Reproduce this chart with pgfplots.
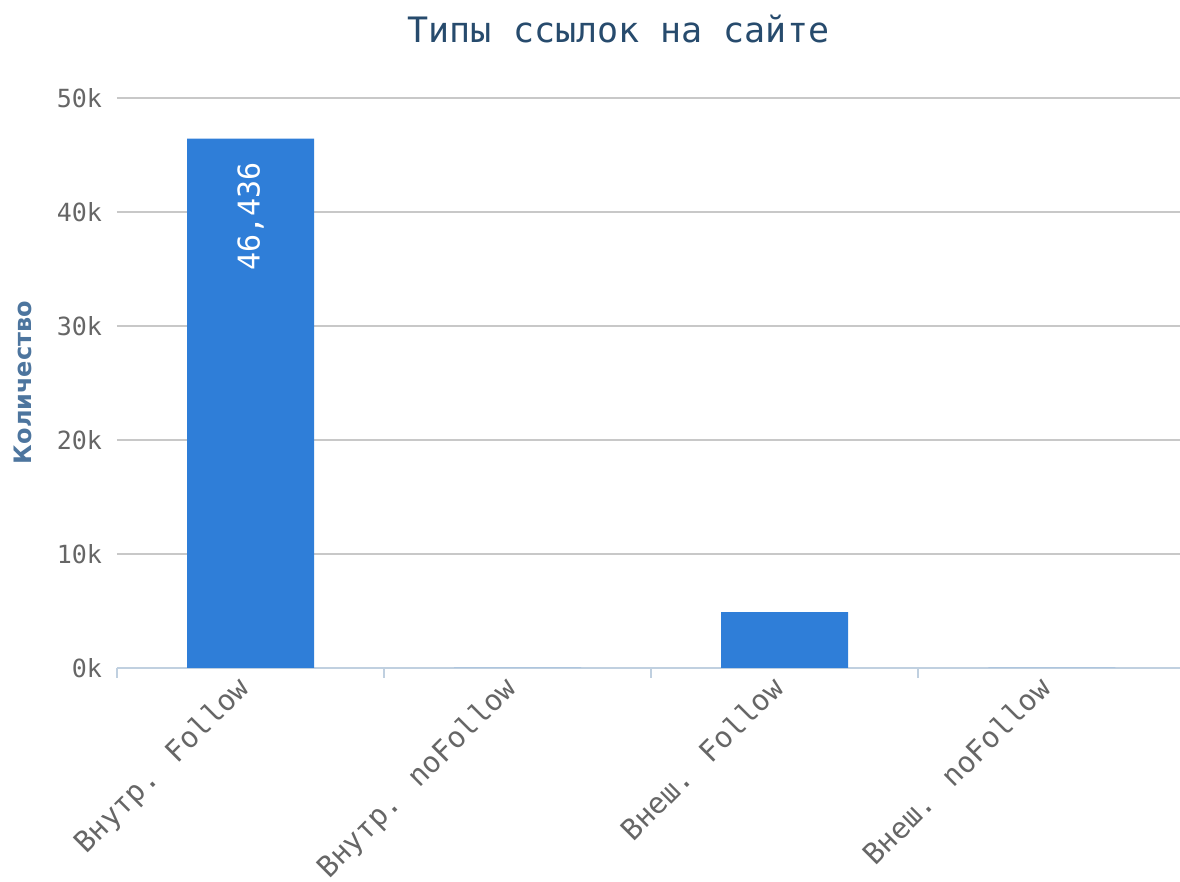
\documentclass[border=0pt]{standalone}
\usepackage{pgfplots}
\pgfplotsset{compat=1.18}
\usepackage{fontspec}
\setmainfont{DejaVu Sans}
\newfontfamily\monofont{DejaVu Sans Mono}
\definecolor{titlecol}{HTML}{274B6D}
\definecolor{ylabcol}{HTML}{4D759E}
\definecolor{tickcol}{HTML}{666666}
\definecolor{gridcol}{HTML}{C8C8C8}
\definecolor{axiscol}{HTML}{C0D0E0}
\definecolor{barcol}{HTML}{2F7ED8}
\begin{document}
\begin{tikzpicture}
\begin{axis}[
  scale only axis,
  width=531.5pt, height=285pt,
  xmin=-0.5, xmax=3.48,
  ymin=0, ymax=50000,
  axis x line*=bottom, axis y line*=left,
  x axis line style={draw=axiscol, line width=1pt},
  y axis line style={draw=none},
  xtick={0,1,2,3},
  xticklabels={Внутр. Follow, Внутр. noFollow, Внеш. Follow, Внеш. noFollow},
  minor xtick={-0.5,0.5,1.5,2.5},
  major tick length=0pt,
  minor tick length=5pt,
  tick align=outside,
  minor tick style={draw=axiscol, line width=0.8pt},
  ytick={0,10000,20000,30000,40000,50000},
  yticklabels={0k,10k,20k,30k,40k,50k},
  ymajorgrids,
  major grid style={draw=gridcol, line width=0.6pt},
  tick label style={font=\monofont\fontsize{12.5}{14}\selectfont, text=tickcol},
  xticklabel style={font=\monofont\fontsize{14.5}{16}\selectfont, xshift=-7.5pt, rotate=45, anchor=north east, inner sep=2pt},
  yticklabel style={xshift=-4pt},
  scaled y ticks=false,
  ybar, bar width=63.5pt,
  point meta=explicit symbolic,
  nodes near coords,
  every node near coord/.append style={rotate=90, anchor=east, inner xsep=11.5pt, inner ysep=0pt, text=white, font=\monofont\fontsize{15}{17}\selectfont},
]
\addplot[fill=barcol, draw=none] coordinates {
  (0,46436) [46,436]
  (1,0) []
  (2,4900) []
  (3,0) []
};
\end{axis}
\node[anchor=base, text=titlecol, font=\monofont\fontsize{17.5}{20}\selectfont] at (250.75pt,312.5pt) {Типы ссылок на сайте};
\node[anchor=base, rotate=90, text=ylabcol, font=\bfseries\fontsize{12}{14}\selectfont] at (-42.5pt,142.75pt) {Количество};
\pgfresetboundingbox
\path[use as bounding box] (-58.5pt,-107pt) rectangle (531.5pt,334pt);
\end{tikzpicture}
\end{document}
